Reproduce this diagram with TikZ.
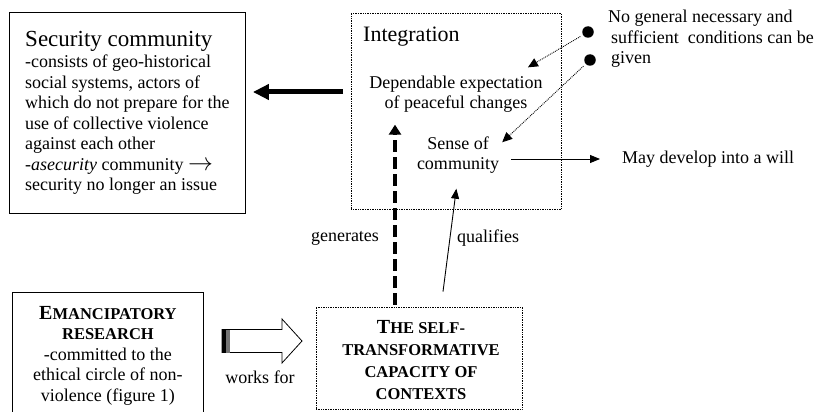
\documentclass[tikz,border=0pt]{standalone}
\usepackage{fontspec}
\setmainfont{Liberation Serif}
\usetikzlibrary{arrows.meta,positioning}

% small caps by hand: big first letter, smaller capitals after it
\newcommand\capsc[2]{{\fontsize{20}{20}\selectfont #1}{\fontsize{16.5}{20}\selectfont #2}}

\tikzset{
  txt/.style={font=\fontsize{18}{20.5}\selectfont, inner sep=0pt},
  solidbox/.style={draw, line width=0.9pt},
  dotbox/.style={draw, densely dotted, line width=0.7pt},
  dot/.style={circle, fill, inner sep=0pt, minimum size=11.5pt},
  thinarrow/.style={line width=0.9pt, -{Triangle[length=10pt,width=8pt]}},
  dotarrow/.style={densely dotted, line width=0.9pt, -{Triangle[length=10pt,width=9pt]}},
  bigarrow/.style={line width=5pt, -{Triangle[length=16pt,width=15pt]}},
  dasharrow/.style={line width=4pt, dash pattern=on 12pt off 5pt, -{Triangle[length=10pt,width=12pt]}}
}

\begin{document}
\begin{tikzpicture}[x=1pt,y=-1pt]
		\useasboundingbox (0,0) rectangle (820,412);
		\clip (0,0) rectangle (820,412);
		
		%% left column
		\node[solidbox, txt, anchor=north west, minimum width=236pt,
		      minimum height=201pt, align=left] (secbox) at (9,12)
		  {{\fontsize{23}{23}\selectfont Security community}\\[1pt]
		   -consists of geo-historical\\
		   social systems, actors of\\
		   which do not prepare for the\\
		   use of collective violence\\
		   against each other\\
		   -\textit{asecurity} community {\fontsize{24}{24}\selectfont$\rightarrow$}\\
		   security no longer an issue};
		
		\node[solidbox, txt, anchor=north west, minimum width=191pt, minimum height=126pt,
		      align=center] (embox) at (12,292)
		  {\bfseries\capsc{E}{MANCIPATORY}\\
		   \bfseries\capsc{}{RESEARCH}\\
		   -committed to the\\
		   ethical circle of non-\\
		   violence (figure 1)};
		
		%% integration
		\node[dotbox, anchor=north west, minimum width=210pt, minimum height=196pt] (intbox) at (351,13) {};
		\node[txt, font=\fontsize{22}{24}\selectfont, anchor=west] (integ) at (363,37) {Integration};
		\node[txt, align=center] (expect) at (456,94) {Dependable expectation\\of peaceful changes};
		\node[txt, align=center] (sense) at (458,155) {Sense of\\community};
		
		\node[dot] (dotA) at (588,32) {};
		\node[dot] (dotB) at (590,60) {};
		\node[txt, align=left, anchor=north west] (cond) at (608,10)
		  {No general necessary and\\
		   \hspace*{3pt}sufficient\ \ conditions can be\\
		   \hspace*{3pt}given};
		
		\node[txt, anchor=west] (will) at (622,159) {May develop into a will};
		
		%% self-transformative capacity
		\node[dotbox, minimum width=206pt, minimum height=102pt] (selfbox) at (419,358) {};
		\node[txt, font=\fontsize{18}{21.7}\selectfont, align=center] (selftxt) at (421,360)
		  {\bfseries\capsc{T}{HE SELF-}\\
		   \bfseries\capsc{}{TRANSFORMATIVE}\\
		   \bfseries\capsc{}{CAPACITY OF}\\
		   \bfseries\capsc{}{CONTEXTS}};
		
		%% arrows
		\draw[bigarrow, shorten <=8pt, shorten >=7pt] ([shift={(0,-2)}]intbox.west |- expect) -- ([shift={(0,-2)}]secbox.east |- expect);
		\draw[dotarrow, shorten <=3pt] (dotA) -- ([shift={(-15,-8)}]expect.north east);
		\draw[dotarrow, shorten <=3pt] (dotB) -- ([shift={(3,6)}]sense.north east);
		\draw[thinarrow] ([shift={(12,4)}]sense.east) -- ([xshift=-22pt]will.west);
		\draw[dasharrow] ([shift={(-24,-2)}]selfbox.north) -- ([shift={(-24,-182)}]selfbox.north);
		\draw[thinarrow] ([shift={(24,-15)}]selfbox.north) -- ([shift={(0,-21)}]intbox.south);
		
		\node[txt] (gen) at (345,238) {generates};
		\node[txt] (qual) at (488,238) {qualifies};
		
		%% hollow arrow, works for
		\coordinate (wa) at (222,341);
		\draw[line width=0.8pt, fill=white] (wa) ++(0,-11.5) -- ++(60,0) -- ++(0,-10.5) -- ++(20,22)
		  -- ++(-20,22) -- ++(0,-10.5) -- ++(-60,0) -- cycle;
		\fill ([shift={(0,-11.5)}]wa) rectangle ([shift={(4,11.5)}]wa);
		\fill[black!55] ([shift={(4,-11.5)}]wa) rectangle ([shift={(8,11.5)}]wa);
		\node[txt] (works) at (260,377) {works for};
		
	\end{tikzpicture}
\end{document}
